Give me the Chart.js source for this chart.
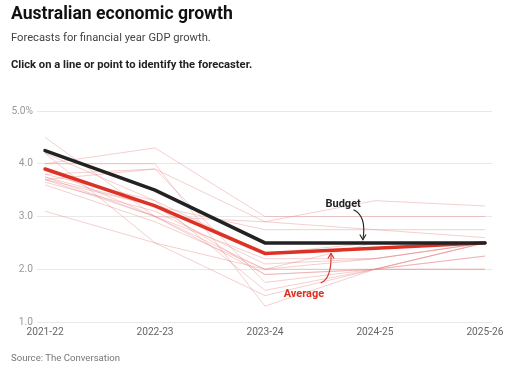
<!DOCTYPE html>
<html><head><meta charset="utf-8">
<script src="https://cdn.jsdelivr.net/npm/chart.js@4/dist/chart.umd.min.js"></script>
<style>
html,body{margin:0;padding:0;background:#fff;}
#wrap{position:relative;width:525px;height:365px;overflow:hidden;font-family:Roboto,sans-serif;}
#title{position:absolute;left:11px;top:3px;font-size:17.6px;font-weight:700;color:#111;white-space:nowrap;}
#sub{position:absolute;left:11px;top:31px;font-size:11.2px;color:#444;white-space:nowrap;}
#click{position:absolute;left:11px;top:58px;font-size:11.2px;font-weight:700;color:#222;white-space:nowrap;}
#src{position:absolute;left:11px;top:352px;font-size:9.6px;color:#777;white-space:nowrap;}
canvas{position:absolute;left:0;top:0;}
</style></head>
<body><div id="wrap">
<canvas id="c" width="525" height="365"></canvas>
<div id="title">Australian economic growth</div>
<div id="sub">Forecasts for financial year GDP growth.</div>
<div id="click">Click on a line or point to identify the forecaster.</div>
<div id="src">Source: The Conversation</div>
</div>
<script>
const years = ["2021-22","2022-23","2023-24","2024-25","2025-26"];
const yTicks = [1,2,3,4,5];
const budget  = [4.25, 3.5, 2.5, 2.5, 2.5];
const average = [3.9, 3.2, 2.3, 2.4, 2.5];
const f01 = [4.5, 3.0, 2.0, 2.5, 2.5];
const f02 = [4.2, 2.5, 2.0, 2.2, 2.5];
const f03 = [4.0, 4.3, 3.0, 3.0, 3.0];
const f04 = [4.0, 4.0, 1.3, 2.0, 2.5];
const f05 = [3.8, 3.9, 2.9, 3.3, 3.2];
const f06 = [3.8, 3.3, 2.3, 2.5, 2.5];
const f07 = [3.75, 3.0, 2.2, 2.2, 2.5];
const f08 = [3.7, 3.2, 2.75, 2.75, 2.75];
const f09 = [3.7, 3.0, 1.9, 2.0, 2.25];
const f10 = [3.65, 3.1, 2.1, 2.2, 2.5];
const f11 = [3.6, 2.9, 2.0, 2.0, 2.0];
const f12 = [3.1, 2.5, 1.5, 2.0, 2.5];
const f13 = [4.2, 3.3, 1.6, 2.0, 2.0];
const f14 = [3.7, 3.9, 1.75, 2.0, 2.5];
const f15 = [3.75, 3.2, 1.9, 2.0, 2.25];
const f16 = [3.9, 3.0, 2.9, 2.75, 2.6];
const forecasters = [f01,f02,f03,f04,f05,f06,f07,f08,f09,f10,f11,f12,f13,f14,f15,f16];

const toPts = arr => arr.map((v,i)=>({x:i,y:v}));
const datasets = forecasters.map(f=>({data:toPts(f),borderColor:'rgba(228,130,130,0.38)',borderWidth:1,pointRadius:0,tension:0,order:5}));
datasets.push({data:toPts(average),borderColor:'#dc3124',borderWidth:3.5,pointRadius:0,tension:0,order:1,borderCapStyle:'round'});
datasets.push({data:toPts(budget),borderColor:'#222',borderWidth:3.5,pointRadius:0,tension:0,order:0,borderCapStyle:'round'});

function arrowHead(ctx,x,y,ang){
  const L=6;
  ctx.beginPath();
  ctx.moveTo(x+L*Math.cos(ang+2.6),y+L*Math.sin(ang+2.6));
  ctx.lineTo(x,y);
  ctx.lineTo(x+L*Math.cos(ang-2.6),y+L*Math.sin(ang-2.6));
  ctx.stroke();
}
const annot = {
  id:'annot',
  afterDatasetsDraw(chart){
    const ctx=chart.ctx, xs=chart.scales.x, ys=chart.scales.y;
    ctx.save();
    ctx.font='bold 11px Roboto';
    ctx.textBaseline='middle';
    // Budget
    const bx=xs.getPixelForValue(2.55), by=ys.getPixelForValue(3.24);
    ctx.fillStyle='#222';ctx.textAlign='left';
    ctx.fillText('Budget',bx,by);
    const tx=xs.getPixelForValue(2.89), ty=ys.getPixelForValue(2.56);
    ctx.strokeStyle='#222';ctx.lineWidth=1.1;
    ctx.beginPath();ctx.moveTo(bx+28,by+6);
    ctx.quadraticCurveTo(tx+4,by+12,tx,ty);ctx.stroke();
    arrowHead(ctx,tx,ty,Math.PI/2);
    // Average
    const ax=xs.getPixelForValue(2.17), ay=ys.getPixelForValue(1.53);
    ctx.fillStyle='#dc3124';
    ctx.fillText('Average',ax,ay);
    const px=xs.getPixelForValue(2.6), py=ys.getPixelForValue(2.3);
    ctx.strokeStyle='#dc3124';
    ctx.beginPath();ctx.moveTo(ax+37,ay-11);
    ctx.quadraticCurveTo(px+1,ay-16,px,py);ctx.stroke();
    arrowHead(ctx,px,py,-Math.PI/2);
    ctx.restore();
  }
};

new Chart(document.getElementById('c'),{
  type:'line',
  data:{datasets},
  plugins:[annot],
  options:{
    responsive:false,animation:false,
    layout:{padding:{left:0,right:33,top:111,bottom:21}},
    plugins:{legend:{display:false},tooltip:{enabled:false}},
    scales:{
      x:{type:'linear',min:-0.073,max:4.064,
        grid:{display:false,drawTicks:false},border:{display:false},
        afterBuildTicks:s=>{s.ticks=years.map((_,i)=>({value:i}));},
        afterFit:s=>{s.height=22;},
        ticks:{callback:v=>years[v],color:'#666',font:{family:'Roboto',size:10.2},padding:4,maxRotation:0,autoSkip:false}},
      y:{min:1,max:5,
        afterBuildTicks:s=>{s.ticks=yTicks.map(v=>({value:v}));},
        afterFit:s=>{s.width=37;},
        grid:{color:'#e8e8e8',drawTicks:false,lineWidth:1},border:{display:false},
        ticks:{callback:v=>v===5?'5.0%':v.toFixed(1),color:'#999',font:{family:'Roboto',size:10.2},padding:4}}
    }
  }
});
</script>
</body></html>
